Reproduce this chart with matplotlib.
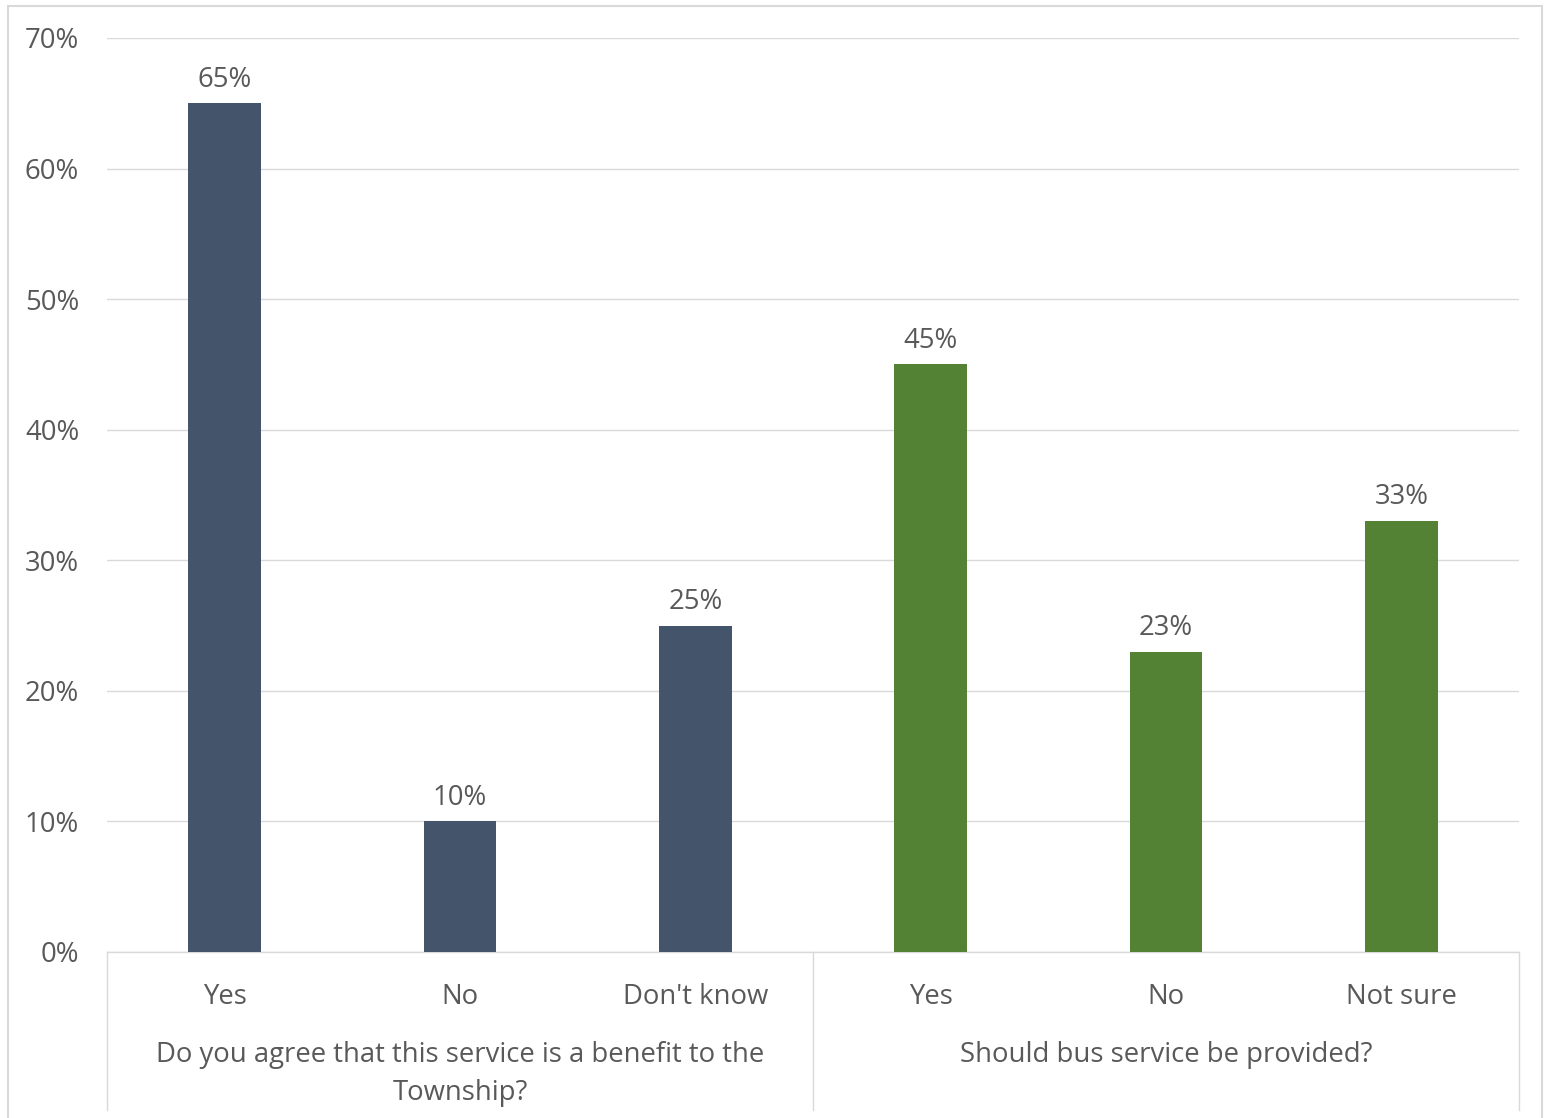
import matplotlib.pyplot as plt
import matplotlib.transforms as mtransforms
from matplotlib.patches import Rectangle
import matplotlib.ticker as mtick

# Survey answers
answers = ['Yes', 'No', "Don't know", 'Yes', 'No', 'Not sure']
shares = [0.65, 0.10, 0.25, 0.45, 0.23, 0.33]
bar_colors = ['#44546A'] * 3 + ['#548235'] * 3
questions = ['Do you agree that this service is a benefit to the\nTownship?',
             'Should bus service be provided?']

text_color = '#595959'
grid_color = '#D9D9D9'
fs = 19.8

plt.rcParams['font.family'] = ['Open Sans', 'DejaVu Sans']

fig = plt.figure(figsize=(15.44, 11.18), dpi=100)
ax = fig.add_axes([107 / 1544, 166 / 1118, 1412 / 1544, 914 / 1118])

x = list(range(len(answers)))
ax.bar(x, shares, width=0.31, color=bar_colors, zorder=3)

# Data labels
for xi, v in zip(x, shares):
    ax.annotate(f'{v:.0%}', (xi, v), xytext=(0, 7), textcoords='offset points',
                ha='center', va='bottom', fontsize=fs, color=text_color)

ax.set_xlim(-0.5, 5.5)
ax.set_ylim(0, 0.70)
ax.yaxis.set_major_locator(mtick.MultipleLocator(0.10))
ax.yaxis.set_major_formatter(mtick.PercentFormatter(1.0, decimals=0))
ax.tick_params(axis='y', length=0, pad=20, labelsize=fs, labelcolor=text_color)
ax.grid(axis='y', color=grid_color, linewidth=1, zorder=0)

ax.set_xticks(x)
ax.set_xticklabels(answers)
ax.tick_params(axis='x', length=0, pad=22, labelsize=fs, labelcolor=text_color)

for s in ['top', 'left', 'right']:
    ax.spines[s].set_visible(False)
ax.spines['bottom'].set_color(grid_color)
ax.spines['bottom'].set_linewidth(1)

# Group labels and separators below the axis
trans = mtransforms.blended_transform_factory(ax.transData, ax.transAxes)
ax.text(1, -0.097, questions[0], transform=trans, ha='center', va='top',
        fontsize=fs, color=text_color, linespacing=1.5)
ax.text(4, -0.097, questions[1], transform=trans, ha='center', va='top',
        fontsize=fs, color=text_color)
for sx in [-0.5, 2.5, 5.5]:
    ax.plot([sx, sx], [0, -0.173], transform=trans, color=grid_color,
            linewidth=1, clip_on=False)

# Chart frame
fig.patches.append(Rectangle((8 / 1544, -0.05), 1534 / 1544, 1.0443,
                             transform=fig.transFigure, fill=False,
                             edgecolor=grid_color, linewidth=1.5))

fig.savefig('out.png', dpi=100)
